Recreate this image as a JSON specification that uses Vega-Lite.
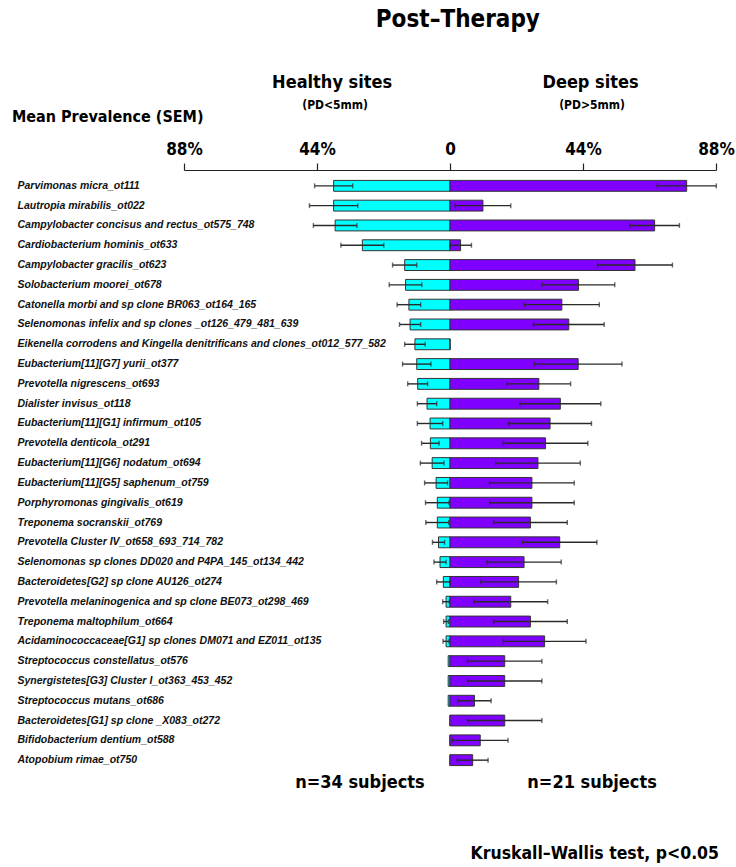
{
  "$schema": "https://vega.github.io/schema/vega-lite/v6.json",
  "width": 532,
  "height": 606,
  "autosize": {"type": "none"},
  "padding": {"left": 184, "top": 170, "right": 20, "bottom": 91},
  "background": "white",
  "config": {
    "view": {"stroke": null},
    "font": "Liberation Sans"
  },
  "datasets": {
    "bars": [
      {"species": "Parvimonas micra_ot111", "side": "Healthy", "v": -38.5, "lo": -44.8, "hi": -32.2},
      {"species": "Lautropia mirabilis_ot022", "side": "Healthy", "v": -38.5, "lo": -46.5, "hi": -30.5},
      {"species": "Campylobacter concisus and rectus_ot575_748", "side": "Healthy", "v": -38.0, "lo": -45.2, "hi": -30.8},
      {"species": "Cardiobacterium hominis_ot633", "side": "Healthy", "v": -29.0, "lo": -36.1, "hi": -21.9},
      {"species": "Campylobacter gracilis_ot623", "side": "Healthy", "v": -15.0, "lo": -19.0, "hi": -11.0},
      {"species": "Solobacterium moorei_ot678", "side": "Healthy", "v": -14.7, "lo": -20.1, "hi": -9.3},
      {"species": "Catonella morbi and sp clone BR063_ot164_165", "side": "Healthy", "v": -13.6, "lo": -17.5, "hi": -9.7},
      {"species": "Selenomonas infelix and sp clones _ot126_479_481_639", "side": "Healthy", "v": -13.2, "lo": -16.7, "hi": -9.7},
      {"species": "Eikenella corrodens and Kingella denitrificans and clones_ot012_577_582", "side": "Healthy", "v": -11.6, "lo": -15.0, "hi": -8.2},
      {"species": "Eubacterium[11][G7] yurii_ot377", "side": "Healthy", "v": -11.0, "lo": -15.7, "hi": -6.3},
      {"species": "Prevotella nigrescens_ot693", "side": "Healthy", "v": -10.7, "lo": -14.0, "hi": -7.4},
      {"species": "Dialister invisus_ot118", "side": "Healthy", "v": -7.6, "lo": -10.8, "hi": -4.4},
      {"species": "Eubacterium[11][G1] infirmum_ot105", "side": "Healthy", "v": -6.6, "lo": -10.8, "hi": -2.4},
      {"species": "Prevotella denticola_ot291", "side": "Healthy", "v": -6.5, "lo": -9.4, "hi": -3.6},
      {"species": "Eubacterium[11][G6] nodatum_ot694", "side": "Healthy", "v": -5.9, "lo": -9.8, "hi": -2.0},
      {"species": "Eubacterium[11][G5] saphenum_ot759", "side": "Healthy", "v": -4.6, "lo": -8.4, "hi": -0.8},
      {"species": "Porphyromonas gingivalis_ot619", "side": "Healthy", "v": -4.2, "lo": -8.1, "hi": -0.3},
      {"species": "Treponema socranskii_ot769", "side": "Healthy", "v": -4.2, "lo": -8.0, "hi": -0.4},
      {"species": "Prevotella Cluster IV_ot658_693_714_782", "side": "Healthy", "v": -3.8, "lo": -5.8, "hi": -1.8},
      {"species": "Selenomonas sp clones DD020 and P4PA_145_ot134_442", "side": "Healthy", "v": -3.3, "lo": -5.3, "hi": -1.3},
      {"species": "Bacteroidetes[G2] sp clone AU126_ot274", "side": "Healthy", "v": -2.2, "lo": -4.4, "hi": 0.0},
      {"species": "Prevotella melaninogenica and sp clone BE073_ot298_469", "side": "Healthy", "v": -1.3, "lo": -2.4, "hi": -0.2},
      {"species": "Treponema maltophilum_ot664", "side": "Healthy", "v": -1.3, "lo": -2.1, "hi": -0.5},
      {"species": "Acidaminococcaceae[G1] sp clones DM071 and EZ011_ot135", "side": "Healthy", "v": -1.3, "lo": -2.3, "hi": -0.3},
      {"species": "Streptococcus constellatus_ot576", "side": "Healthy", "v": -0.6, "lo": null, "hi": null},
      {"species": "Synergistetes[G3] Cluster I_ot363_453_452", "side": "Healthy", "v": -0.6, "lo": null, "hi": null},
      {"species": "Streptococcus mutans_ot686", "side": "Healthy", "v": -0.6, "lo": null, "hi": null},
      {"species": "Bacteroidetes[G1] sp clone _X083_ot272", "side": "Healthy", "v": 0, "lo": null, "hi": null},
      {"species": "Bifidobacterium dentium_ot588", "side": "Healthy", "v": 0, "lo": null, "hi": null},
      {"species": "Atopobium rimae_ot750", "side": "Healthy", "v": 0, "lo": null, "hi": null},
      {"species": "Parvimonas micra_ot111", "side": "Deep", "v": 78.3, "lo": 68.5, "hi": 88.1},
      {"species": "Lautropia mirabilis_ot022", "side": "Deep", "v": 10.9, "lo": 1.7, "hi": 20.1},
      {"species": "Campylobacter concisus and rectus_ot575_748", "side": "Deep", "v": 67.7, "lo": 59.5, "hi": 75.9},
      {"species": "Cardiobacterium hominis_ot633", "side": "Deep", "v": 3.5, "lo": 0.0, "hi": 7.1},
      {"species": "Campylobacter gracilis_ot623", "side": "Deep", "v": 61.2, "lo": 48.8, "hi": 73.6},
      {"species": "Solobacterium moorei_ot678", "side": "Deep", "v": 42.5, "lo": 30.5, "hi": 54.5},
      {"species": "Catonella morbi and sp clone BR063_ot164_165", "side": "Deep", "v": 37.0, "lo": 24.6, "hi": 49.4},
      {"species": "Selenomonas infelix and sp clones _ot126_479_481_639", "side": "Deep", "v": 39.3, "lo": 27.6, "hi": 51.0},
      {"species": "Eikenella corrodens and Kingella denitrificans and clones_ot012_577_582", "side": "Deep", "v": 0, "lo": null, "hi": null},
      {"species": "Eubacterium[11][G7] yurii_ot377", "side": "Deep", "v": 42.4, "lo": 27.9, "hi": 56.9},
      {"species": "Prevotella nigrescens_ot693", "side": "Deep", "v": 29.4, "lo": 18.9, "hi": 39.9},
      {"species": "Dialister invisus_ot118", "side": "Deep", "v": 36.5, "lo": 23.1, "hi": 49.9},
      {"species": "Eubacterium[11][G1] infirmum_ot105", "side": "Deep", "v": 33.1, "lo": 19.4, "hi": 46.8},
      {"species": "Prevotella denticola_ot291", "side": "Deep", "v": 31.6, "lo": 17.6, "hi": 45.6},
      {"species": "Eubacterium[11][G6] nodatum_ot694", "side": "Deep", "v": 29.1, "lo": 15.1, "hi": 43.1},
      {"species": "Eubacterium[11][G5] saphenum_ot759", "side": "Deep", "v": 27.1, "lo": 13.1, "hi": 41.1},
      {"species": "Porphyromonas gingivalis_ot619", "side": "Deep", "v": 27.1, "lo": 13.1, "hi": 41.1},
      {"species": "Treponema socranskii_ot769", "side": "Deep", "v": 26.6, "lo": 14.4, "hi": 38.8},
      {"species": "Prevotella Cluster IV_ot658_693_714_782", "side": "Deep", "v": 36.3, "lo": 24.0, "hi": 48.6},
      {"species": "Selenomonas sp clones DD020 and P4PA_145_ot134_442", "side": "Deep", "v": 24.5, "lo": 12.2, "hi": 36.8},
      {"species": "Bacteroidetes[G2] sp clone AU126_ot274", "side": "Deep", "v": 22.7, "lo": 10.2, "hi": 35.2},
      {"species": "Prevotella melaninogenica and sp clone BE073_ot298_469", "side": "Deep", "v": 20.1, "lo": 7.9, "hi": 32.3},
      {"species": "Treponema maltophilum_ot664", "side": "Deep", "v": 26.6, "lo": 14.4, "hi": 38.8},
      {"species": "Acidaminococcaceae[G1] sp clones DM071 and EZ011_ot135", "side": "Deep", "v": 31.3, "lo": 17.6, "hi": 45.0},
      {"species": "Streptococcus constellatus_ot576", "side": "Deep", "v": 18.1, "lo": 5.8, "hi": 30.4},
      {"species": "Synergistetes[G3] Cluster I_ot363_453_452", "side": "Deep", "v": 18.1, "lo": 5.8, "hi": 30.4},
      {"species": "Streptococcus mutans_ot686", "side": "Deep", "v": 8.1, "lo": 2.6, "hi": 13.6},
      {"species": "Bacteroidetes[G1] sp clone _X083_ot272", "side": "Deep", "v": 18.1, "lo": 5.8, "hi": 30.4},
      {"species": "Bifidobacterium dentium_ot588", "side": "Deep", "v": 10.0, "lo": 0.8, "hi": 19.2},
      {"species": "Atopobium rimae_ot750", "side": "Deep", "v": 7.5, "lo": 2.4, "hi": 12.6}
    ]
  },
  "layer": [
    {
      "data": {"name": "bars"},
      "mark": {"type": "bar", "stroke": "#333333", "strokeWidth": 1},
      "encoding": {
        "y": {
          "field": "species",
          "type": "nominal",
          "sort": null,
          "scale": {"paddingInner": 0.45, "paddingOuter": 0.525},
          "axis": {
            "title": null,
            "orient": "left",
            "domain": false,
            "ticks": false,
            "tickSize": 0,
            "labelAlign": "left",
            "labelPadding": 167,
            "labelFont": "Liberation Sans",
            "labelFontStyle": "italic",
            "labelFontWeight": "bold",
            "labelFontSize": 10.5,
            "labelColor": "#111111",
            "labelLimit": 0
          }
        },
        "x": {
          "field": "v",
          "type": "quantitative",
          "scale": {"domain": [-88, 88], "nice": false, "zero": false},
          "axis": {
            "orient": "top",
            "title": null,
            "values": [-88, -44, 0, 44, 88],
            "labelExpr": "datum.value == 0 ? '0' : abs(datum.value) + '%'",
            "grid": false,
            "domainColor": "#222222",
            "domainWidth": 1.2,
            "tickColor": "#222222",
            "tickWidth": 1.2,
            "tickSize": 7,
            "labelPadding": 5,
            "labelFont": "Liberation Sans Narrow, DejaVu Sans Condensed, Liberation Sans",
            "labelFontWeight": "bold",
            "labelFontSize": 17,
            "labelColor": "#000000",
            "labelFlush": false
          }
        },
        "x2": {"datum": 0},
        "color": {
          "field": "side",
          "type": "nominal",
          "scale": {"domain": ["Healthy", "Deep"], "range": ["#00FFFF", "#7F00FF"]},
          "legend": null
        }
      }
    },
    {
      "data": {"name": "bars"},
      "transform": [{"filter": "datum.lo != null"}],
      "mark": {"type": "rule", "color": "#2a2a2a", "strokeWidth": 1.4},
      "encoding": {
        "y": {"field": "species", "type": "nominal", "sort": null},
        "x": {"field": "lo", "type": "quantitative"},
        "x2": {"field": "hi"}
      }
    },
    {
      "data": {"name": "bars"},
      "transform": [{"filter": "datum.lo != null"}],
      "mark": {"type": "tick", "color": "#2a2a2a", "thickness": 1.4, "size": 5, "orient": "vertical"},
      "encoding": {
        "y": {"field": "species", "type": "nominal", "sort": null},
        "x": {"field": "lo", "type": "quantitative"}
      }
    },
    {
      "data": {"name": "bars"},
      "transform": [{"filter": "datum.lo != null"}],
      "mark": {"type": "tick", "color": "#2a2a2a", "thickness": 1.4, "size": 5, "orient": "vertical"},
      "encoding": {
        "y": {"field": "species", "type": "nominal", "sort": null},
        "x": {"field": "hi", "type": "quantitative"}
      }
    },
    {
      "mark": {"type": "rule", "color": "#222222", "strokeWidth": 1.2},
      "encoding": {"x": {"datum": 0}, "y": {"value": 0}, "y2": {"value": 606}}
    },
    {
      "data": {"values": [{"label": "Post–Therapy", "pos": 2.6}]},
      "mark": {"type": "text", "font": "Liberation Sans Narrow, DejaVu Sans Condensed, Liberation Sans", "fontWeight": "bold", "fontSize": 24, "baseline": "middle", "align": "center", "color": "#000000"},
      "encoding": {
        "x": {"field": "pos", "type": "quantitative"},
        "y": {"value": -150},
        "text": {"field": "label"}
      }
    },
    {
      "data": {"values": [
        {"label": "Healthy sites", "pos": -39},
        {"label": "Deep sites", "pos": 46.5}
      ]},
      "mark": {"type": "text", "font": "Liberation Sans Narrow, DejaVu Sans Condensed, Liberation Sans", "fontWeight": "bold", "fontSize": 18, "baseline": "middle", "align": "center", "color": "#000000"},
      "encoding": {
        "x": {"field": "pos", "type": "quantitative"},
        "y": {"value": -87},
        "text": {"field": "label"}
      }
    },
    {
      "data": {"values": [
        {"label": "(PD<5mm)", "pos": -38},
        {"label": "(PD>5mm)", "pos": 47}
      ]},
      "mark": {"type": "text", "font": "Liberation Sans Narrow, DejaVu Sans Condensed, Liberation Sans", "fontWeight": "bold", "fontSize": 12, "baseline": "middle", "align": "center", "color": "#000000"},
      "encoding": {
        "x": {"field": "pos", "type": "quantitative"},
        "y": {"value": -65},
        "text": {"field": "label"}
      }
    },
    {
      "data": {"values": [{"label": "Mean Prevalence (SEM)", "pos": -144.9}]},
      "mark": {"type": "text", "font": "Liberation Sans Narrow, DejaVu Sans Condensed, Liberation Sans", "fontWeight": "bold", "fontSize": 16, "baseline": "middle", "align": "left", "color": "#000000"},
      "encoding": {
        "x": {"field": "pos", "type": "quantitative"},
        "y": {"value": -53},
        "text": {"field": "label"}
      }
    },
    {
      "data": {"values": [
        {"label": "n=34 subjects", "pos": -29.8},
        {"label": "n=21 subjects", "pos": 47}
      ]},
      "mark": {"type": "text", "font": "Liberation Sans Narrow, DejaVu Sans Condensed, Liberation Sans", "fontWeight": "bold", "fontSize": 18, "baseline": "middle", "align": "center", "color": "#000000"},
      "encoding": {
        "x": {"field": "pos", "type": "quantitative"},
        "y": {"value": 613},
        "text": {"field": "label"}
      }
    },
    {
      "data": {"values": [{"label": "Kruskall–Wallis test, p<0.05", "pos": 89}]},
      "mark": {"type": "text", "font": "Liberation Sans Narrow, DejaVu Sans Condensed, Liberation Sans", "fontWeight": "bold", "fontSize": 17.5, "baseline": "middle", "align": "right", "color": "#000000"},
      "encoding": {
        "x": {"field": "pos", "type": "quantitative"},
        "y": {"value": 684},
        "text": {"field": "label"}
      }
    }
  ]
}
